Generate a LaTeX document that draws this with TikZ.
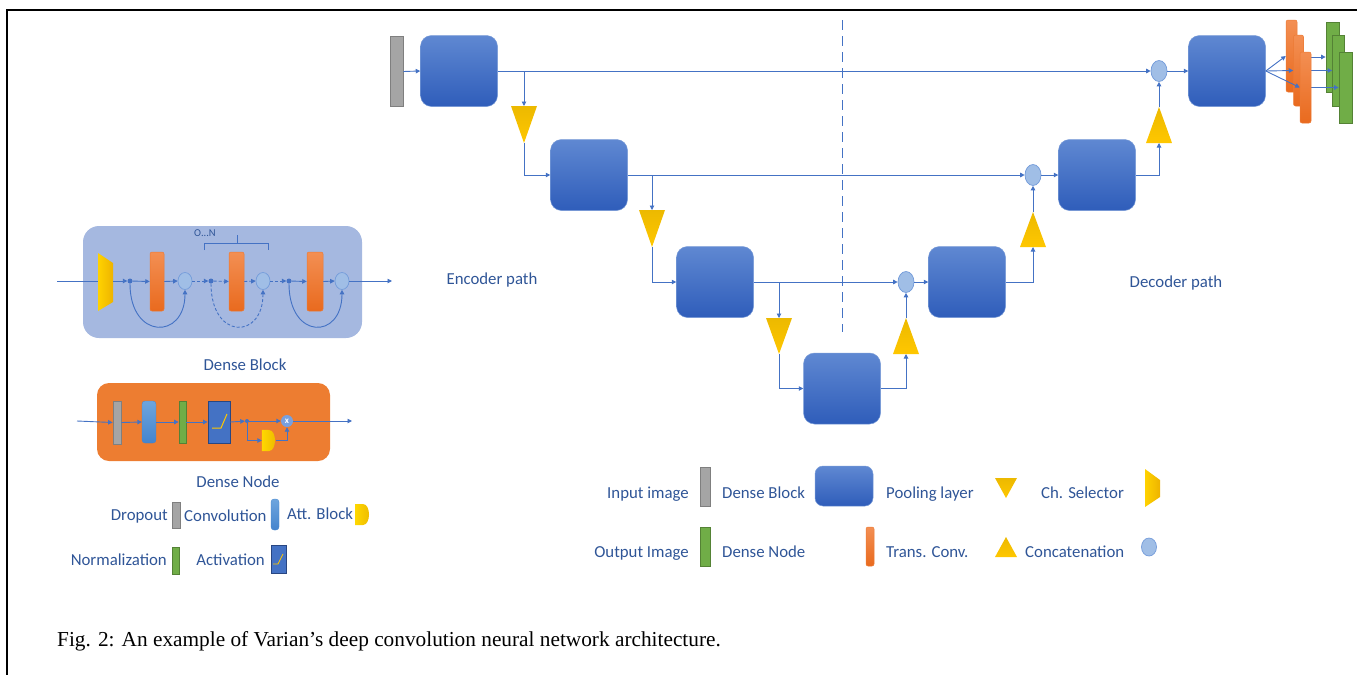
\documentclass[tikz,border=0pt]{standalone}
\usepackage{fontspec}
\usetikzlibrary{arrows.meta,shapes.geometric,shadings}
\newfontfamily\lbf{Carlito}
\newfontfamily\capf{Liberation Serif}
\definecolor{txtc}{RGB}{47,85,151}
\definecolor{linec}{RGB}{68,114,196}
\definecolor{blkt}{RGB}{95,136,210}
\definecolor{blkb}{RGB}{47,93,186}
\definecolor{blkd}{RGB}{120,155,215}
\definecolor{orgt}{RGB}{243,143,83}
\definecolor{orgb}{RGB}{233,106,30}
\definecolor{orgd}{RGB}{236,122,52}
\definecolor{grnf}{RGB}{112,173,71}
\definecolor{grnd}{RGB}{84,130,53}
\definecolor{gryf}{RGB}{165,165,165}
\definecolor{gryd}{RGB}{127,127,127}
\definecolor{cirf}{RGB}{160,190,230}
\definecolor{cird}{RGB}{115,155,218}
\definecolor{yelt}{RGB}{236,185,0}
\definecolor{yelb}{RGB}{255,199,0}
\definecolor{dbbg}{RGB}{165,184,224}
\definecolor{dnbg}{RGB}{237,125,49}
\definecolor{convt}{RGB}{110,165,222}
\definecolor{convb}{RGB}{68,132,205}
\definecolor{actf}{RGB}{68,114,196}
\definecolor{actd}{RGB}{40,70,130}
\definecolor{mxf}{RGB}{120,160,222}
\tikzset{
  arr/.style={draw=linec, line width=0.9pt, -{Triangle[length=4.5pt,width=4.5pt]}},
  ln/.style={draw=linec, line width=0.9pt},
  blk/.style={rectangle, rounded corners=11pt, minimum width=77pt, minimum height=71pt, top color=blkt, bottom color=blkb, draw=blkd, line width=0.5pt, inner sep=0pt},
  obar/.style={rectangle, rounded corners=2pt, top color=orgt, bottom color=orgb, draw=orgd, line width=0.5pt, inner sep=0pt},
  gbar/.style={rectangle, fill=grnf, draw=grnd, line width=0.8pt, inner sep=0pt},
  ybar/.style={rectangle, fill=gryf, draw=gryd, line width=0.8pt, inner sep=0pt},
  cbar/.style={rectangle, rounded corners=3pt, top color=convt, bottom color=convb, draw=convb, line width=0.3pt, inner sep=0pt},
  abox/.style={rectangle, fill=actf, draw=actd, line width=0.8pt, inner sep=0pt},
  cat/.style={ellipse, fill=cirf, draw=cird, line width=0.7pt, inner sep=0pt, minimum width=16pt, minimum height=21pt},
  tri/.style={top color=yelt, bottom color=yelb, draw=none},
  lbl/.style={font=\lbf\fontsize{16.8}{19}\selectfont, text=txtc, inner sep=0pt, text height=11.5pt, text depth=3pt},
  slbl/.style={font=\lbf\fontsize{10.5}{12}\selectfont, text=txtc, inner sep=0pt},
  dot/.style={circle, fill=linec, inner sep=0pt, minimum size=5pt},
}
\begin{document}
\begin{tikzpicture}[x=1pt,y=-1pt]
\useasboundingbox (0,0) rectangle (1357,675);
% frame
\draw[line width=2.6pt, black] (1357,10) -- (7,10) -- (7,675);

% ---------- main U-Net ----------
\draw[linec, line width=1pt, dash pattern=on 10pt off 6pt] (842,20) -- (842,332);

\node[ybar, minimum width=13pt, minimum height=70pt] (IN) at (396.5,71.5) {};
\node[blk] (B1) at (459,71) {};
\node[blk] (B2) at (589,175) {};
\node[blk] (B3) at (715,282) {};
\node[blk] (B4) at (842,388.5) {};
\node[blk] (D3) at (967,282) {};
\node[blk] (D2) at (1097,175) {};
\node[blk] (D1) at (1227,71) {};

\node[cat] (C1) at (1159,71) {};
\node[cat] (C2) at (1033,175) {};
\node[cat] (C3) at (906,282) {};

% pooling triangles
\shade[tri] (511,106) -- (537,106) -- (524,143) -- cycle;
\coordinate (p1t) at (524,106); \coordinate (p1b) at (524,143);
\shade[tri] (639,210) -- (665,210) -- (652,247) -- cycle;
\coordinate (p2t) at (652,210); \coordinate (p2b) at (652,247);
\shade[tri] (766,318) -- (792,318) -- (779,354) -- cycle;
\coordinate (p3t) at (779,318); \coordinate (p3b) at (779,354);
% up-sampling / concatenation triangles
\shade[tri] (893,354) -- (919,354) -- (906,318) -- cycle;
\coordinate (u3b) at (906,354); \coordinate (u3t) at (906,318);
\shade[tri] (1020,247) -- (1046,247) -- (1033,212) -- cycle;
\coordinate (u2b) at (1033,247); \coordinate (u2t) at (1033,212);
\shade[tri] (1146,143) -- (1172,143) -- (1159,107) -- cycle;
\coordinate (u1b) at (1159,143); \coordinate (u1t) at (1159,107);

% connectors
\draw[arr] (IN.east) -- (B1.west);
\draw[arr] (B1.east) -- (C1.west);
\draw[arr] (p1t |- B1.east) -- (p1t);
\draw[arr] (p1b) |- (B2.west);
\draw[arr] (B2.east) -- (C2.west);
\draw[arr] (p2t |- B2.east) -- (p2t);
\draw[arr] (p2b) |- (B3.west);
\draw[arr] (B3.east) -- (C3.west);
\draw[arr] (p3t |- B3.east) -- (p3t);
\draw[arr] (p3b) |- (B4.west);
\draw[arr] (B4.east) -| (u3b);
\draw[arr] (u3t) -- (C3.south);
\draw[arr] (C3.east) -- (D3.west);
\draw[arr] (D3.east) -| (u2b);
\draw[arr] (u2t) -- (C2.south);
\draw[arr] (C2.east) -- (D2.west);
\draw[arr] (D2.east) -| (u1b);
\draw[arr] (u1t) -- (C1.south);
\draw[arr] (C1.east) -- (D1.west);

% output stacks
\node[gbar, minimum width=13pt, minimum height=70pt] (G1) at (1332.5,57) {};
\node[gbar, minimum width=12pt, minimum height=71pt] (G2) at (1338.5,70.5) {};
\node[gbar, minimum width=13pt, minimum height=71pt] (G3) at (1345.5,87.5) {};
\draw[arr] (1311,57) -- (G1.west);
\draw[arr] (1311,70.5) -- (G2.west);
\draw[arr] (1311,87.5) -- (G3.west);
\node[obar, minimum width=11pt, minimum height=72pt] (O1) at (1291.5,56) {};
\node[obar, minimum width=10pt, minimum height=71pt] (O2) at (1298.5,70.5) {};
\node[obar, minimum width=11pt, minimum height=71pt] (O3) at (1305.5,87.5) {};
\draw[arr] (D1.east) -- (O1.west);
\draw[arr] (D1.east) -- (O2.west);
\draw[arr] (D1.east) -- (O3.west);

\node[lbl] (enc) at (492,280) {Encoder path};
\node[lbl] (dec) at (1176,283) {Decoder path};

% ---------- Dense block detail ----------
\node[rectangle, rounded corners=16pt, fill=dbbg, minimum width=279pt, minimum height=112pt, inner sep=0pt] (DB) at (222.5,282) {};
\coordinate (dbin) at (57,281);
\shade[left color=yelb!80!yellow, right color=yelt!90!orange] (98,253) -- (113,263) -- (113,302) -- (98,311) -- cycle;
\coordinate (csl) at (98,281); \coordinate (csr) at (113,281);
\draw[ln] (dbin) -- (csl);
\node[dot] (d1) at (130,281) {};
\node[dot] (d2) at (211,281) {};
\node[dot] (d3) at (289,281) {};
\node[obar, minimum width=14pt, minimum height=59pt] (OB1) at (157,281.5) {};
\node[obar, minimum width=15pt, minimum height=59pt] (OB2) at (236.5,281.5) {};
\node[obar, minimum width=16pt, minimum height=59pt] (OB3) at (315,281.5) {};
\node[cat, minimum width=14pt, minimum height=17pt] (cc1) at (185,281) {};
\node[cat, minimum width=14pt, minimum height=17pt] (cc2) at (263,281) {};
\node[cat, minimum width=14pt, minimum height=17pt] (cc3) at (342,281) {};
\coordinate (dbout) at (392,281);
\draw[arr] (csr) -- (d1);
\draw[arr] (d1) -- (OB1.west);
\draw[arr] (OB1.east) -- (cc1.west);
\draw[arr, densely dashed] (cc1.east) -- (d2);
\draw[arr, densely dashed] (d2) -- (OB2.west);
\draw[arr, densely dashed] (OB2.east) -- (cc2.west);
\draw[arr, densely dashed] (cc2.east) -- (d3);
\draw[arr] (d3) -- (OB3.west);
\draw[arr] (OB3.east) -- (cc3.west);
\draw[arr] (cc3.east) -- (dbout);
\draw[arr] (d1) .. controls (130,340) and (185,340) .. (cc1.south);
\draw[arr, densely dashed] (d2) .. controls (211,340) and (263,340) .. (cc2.south);
\draw[arr] (d3) .. controls (289,340) and (342,340) .. (cc3.south);
% brace 0...N
\coordinate (brl) at (204,250); \coordinate (brr) at (268,250);
\coordinate (brm) at (237,243); \coordinate (brt) at (237,235);
\draw[ln] (brl) -- (brl |- brm) -- (brr |- brm) -- (brr);
\draw[ln] (brm) -- (brt);
\node[slbl] (on) at (205,233) {O...N};
\node[lbl] (dbl) at (245,366) {Dense Block};

% ---------- Dense node detail ----------
\node[rectangle, rounded corners=12pt, fill=dnbg, minimum width=233pt, minimum height=78pt, inner sep=0pt] (DN) at (213.5,422) {};
\coordinate (dnin) at (77,421);
\node[ybar, minimum width=8pt, minimum height=43pt] (GB) at (117,422.5) {};
\node[cbar, minimum width=14pt, minimum height=42pt] (CB) at (149,422) {};
\node[gbar, minimum width=7pt, minimum height=42pt] (NB) at (182.5,422) {};
\node[abox, minimum width=22pt, minimum height=42pt] (AB) at (219,422) {};
\draw[yelb, line width=1pt] (212,428) -- (221,428) -- (227,414);
\node[dot, minimum size=4pt] (dn) at (247,421) {};
\node[rectangle, minimum width=14pt, minimum height=21pt, inner sep=0pt] (AT) at (269,440.5) {};
\shade[left color=yelb!70!yellow, right color=yelt] (AT.north west) -- (269,430) .. controls (277,430) and (277,451) .. (269,451) -- (AT.south west) -- cycle;
\node[circle, fill=mxf, inner sep=0pt, minimum size=12pt, font=\lbf\bfseries\fontsize{9}{9}\selectfont, text=white] (MX) at (287,421) {x};
\coordinate (dnout) at (352,421);
\draw[arr] (dnin) -- (GB.west);
\draw[arr] (GB.east) -- (CB.west);
\draw[arr] (CB.east) -- (NB.west);
\draw[arr] (NB.east) -- (AB.west);
\draw[arr] (AB.east) -- (dn);
\draw[arr] (dn) -- (MX.west);
\draw[arr] (dn) |- (AT.west);
\draw[arr] (AT.east) -| (MX.south);
\draw[arr] (MX.east) -- (dnout);
\node[lbl] (dnl) at (238,483) {Dense Node};

% ---------- left legend ----------
\node[lbl, anchor=east] (t1) at (168,516) {Dropout};
\node[ybar, minimum width=8pt, minimum height=26pt] (l1) at (176,515) {};
\node[lbl, anchor=west] (t2) at (184,517) {Convolution};
\node[cbar, minimum width=8pt, minimum height=31pt] (l2) at (275,514.5) {};
\node[lbl, anchor=west] (t3) at (287,515) {Att. Block};
\shade[left color=yelb!70!yellow, right color=yelt] (355,504) -- (363,504) .. controls (371,504) and (371,525) .. (363,525) -- (355,525) -- cycle;
\node[lbl, anchor=east] (t4) at (167,561) {Normalization};
\node[gbar, minimum width=7pt, minimum height=27pt] (l4) at (175.5,560.5) {};
\node[lbl, anchor=east] (t5) at (265,561) {Activation};
\node[abox, minimum width=15pt, minimum height=28pt] (l5) at (278.5,559) {};
\draw[yelb, line width=0.8pt] (273,564) -- (278,564) -- (283,554);

% ---------- right legend ----------
\node[lbl, anchor=east] (r1) at (689,494) {Input image};
\node[ybar, minimum width=10pt, minimum height=39pt] (ri) at (705,486.5) {};
\node[lbl, anchor=west] (r2) at (722,494) {Dense Block};
\node[blk, minimum width=58pt, minimum height=40pt, rounded corners=8pt] (rb) at (844,486) {};
\node[lbl, anchor=west] (r3) at (886,494) {Pooling layer};
\shade[tri] (995,478) -- (1017,478) -- (1006,498) -- cycle;
\node[lbl, anchor=west] (r4) at (1041,494) {Ch. Selector};
\shade[left color=yelb!80!yellow, right color=yelt!90!orange] (1145,469) -- (1160,480) -- (1160,497) -- (1145,507) -- cycle;
\node[lbl, anchor=east] (r5) at (689,553) {Output Image};
\node[gbar, minimum width=10pt, minimum height=39pt] (rg) at (705,546.5) {};
\node[lbl, anchor=west] (r6) at (722,553) {Dense Node};
\node[obar, minimum width=8pt, minimum height=39pt] (ro) at (870,546.5) {};
\node[lbl, anchor=west] (r7) at (886,553) {Trans. Conv.};
\shade[tri] (995,557) -- (1017,557) -- (1006,537) -- cycle;
\node[lbl, anchor=west] (r8) at (1025,553) {Concatenation};
\node[cat, minimum width=15pt, minimum height=18pt] (rc) at (1149,547) {};

% caption
\node[anchor=west, inner sep=0pt, font=\capf\fontsize{21.3}{24}\selectfont] (cap) at (57,641) {Fig. 2: An example of Varian’s deep convolution neural network architecture.};
\end{tikzpicture}
\end{document}
